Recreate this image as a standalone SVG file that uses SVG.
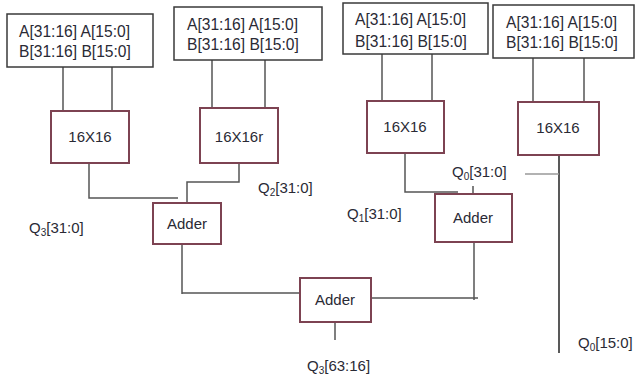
<svg xmlns="http://www.w3.org/2000/svg" width="636" height="379" viewBox="0 0 636 379">
<style>
  text { font-family: "Liberation Sans", Arial, sans-serif; font-size: 15px; fill: #2a2a35; }
  .in { fill: #fff; stroke: #3a3a3a; stroke-width: 1.5; }
  .in + text, .it { font-size: 15.6px; }
  .blk { fill: #fff; stroke: #7d4352; stroke-width: 2; }
  .w { fill: none; stroke: #555; stroke-width: 1.5; }
  .c { text-anchor: middle; }
  .sub { font-size: 10px; }
</style>
<rect width="636" height="379" fill="#fff"/>
<g id="connectors">
  <path class="w" d="M63 67 V110 M112 67 V111"/>
  <path class="w" d="M212 60 V108 M265 60 V108"/>
  <path class="w" d="M382 54 V101 M432 54 V101"/>
  <path class="w" d="M533 58 V102 M584 58 V102"/>
  <path class="w" d="M89 163 V198 H178"/>
  <path class="w" d="M239 163 V182 H187 V202"/>
  <path class="w" d="M405 153 V192 H458"/>
  <path class="w" d="M473 186 V194"/>
  <path class="w" d="M559 155 V353" style="stroke:#222"/>
  <path class="w" d="M525 174 H559" style="stroke:#999"/>
  <path class="w" d="M182 244 V294 M182 293 H300"/>
  <path class="w" d="M371 298 H478 M474 242 V300"/>
  <path class="w" d="M335 322 V340"/>
</g>
<g id="in1"><rect class="in" x="7" y="14" width="146" height="53"/><text class="it" x="19" y="37">A[31:16] A[15:0]</text><text class="it" x="19" y="57">B[31:16] B[15:0]</text></g>
<g id="in2"><rect class="in" x="174" y="7" width="148" height="53"/><text class="it" x="187" y="30">A[31:16] A[15:0]</text><text class="it" x="187" y="50">B[31:16] B[15:0]</text></g>
<g id="in3"><rect class="in" x="343" y="3" width="145" height="51"/><text class="it" x="355" y="25">A[31:16] A[15:0]</text><text class="it" x="355" y="47">B[31:16] B[15:0]</text></g>
<g id="in4"><rect class="in" x="493" y="5" width="141" height="53"/><text class="it" x="506" y="28">A[31:16] A[15:0]</text><text class="it" x="506" y="48">B[31:16] B[15:0]</text></g>
<g id="m1"><rect class="blk" x="51" y="111" width="78" height="52"/><text class="c" x="90" y="142">16X16</text></g>
<g id="m2"><rect class="blk" x="200" y="108" width="78" height="55"/><text class="c" x="239" y="142">16X16r</text></g>
<g id="m3"><rect class="blk" x="367" y="101" width="77" height="52"/><text class="c" x="405" y="132">16X16</text></g>
<g id="m4"><rect class="blk" x="518" y="102" width="81" height="53"/><text class="c" x="558" y="133">16X16</text></g>
<g id="add1"><rect class="blk" x="153" y="203" width="68" height="41"/><text class="c" x="187" y="229">Adder</text></g>
<g id="add2"><rect class="blk" x="435" y="194" width="77" height="48"/><text class="c" x="473" y="223">Adder</text></g>
<g id="add3"><rect class="blk" x="300" y="278" width="71" height="44"/><text class="c" x="335" y="305">Adder</text></g>
<g id="labels">
  <text x="258" y="193">Q<tspan class="sub" dy="3">2</tspan><tspan dy="-3">[31:0]</tspan></text>
  <text x="29" y="233">Q<tspan class="sub" dy="3">3</tspan><tspan dy="-3">[31:0]</tspan></text>
  <text x="347" y="219">Q<tspan class="sub" dy="3">1</tspan><tspan dy="-3">[31:0]</tspan></text>
  <text x="452" y="177">Q<tspan class="sub" dy="3">0</tspan><tspan dy="-3">[31:0]</tspan></text>
  <text x="578" y="348">Q<tspan class="sub" dy="3">0</tspan><tspan dy="-3">[15:0]</tspan></text>
  <text x="307" y="371">Q<tspan class="sub" dy="3">3</tspan><tspan dy="-3">[63:16]</tspan></text>
</g>
</svg>
